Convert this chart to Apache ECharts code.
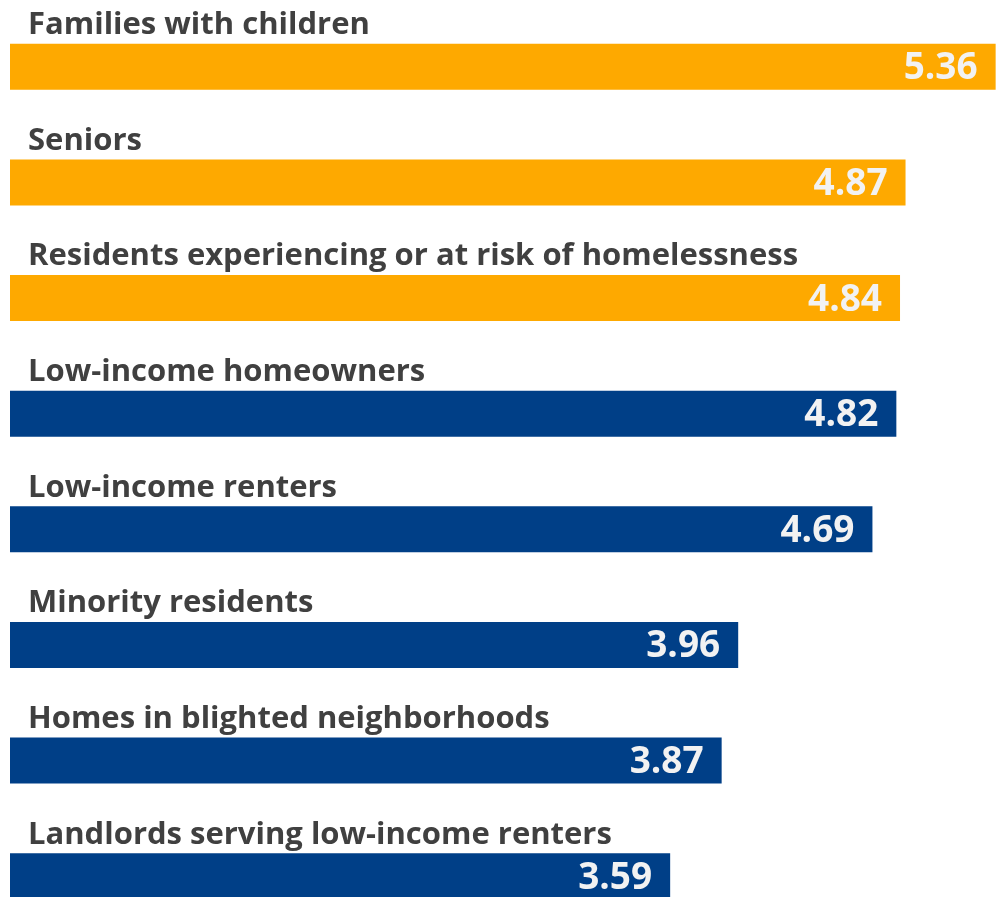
<!DOCTYPE html>
<html>
<head>
<meta charset="utf-8">
<script src="https://cdn.jsdelivr.net/npm/echarts@6/dist/echarts.min.js"></script>
<style>html,body{margin:0;padding:0;background:#fff;}#main{width:1005px;height:897px;}</style>
</head>
<body>
<div id="main"></div>
<script>
var categories = ["Families with children","Seniors","Residents experiencing or at risk of homelessness","Low-income homeowners","Low-income renters","Minority residents","Homes in blighted neighborhoods","Landlords serving low-income renters"];
var values = [5.36, 4.87, 4.84, 4.82, 4.69, 3.96, 3.87, 3.59];
var highlighted = [true, true, true, false, false, false, false, false];
var orange = '#FEA900';
var blue = '#003F87';

var chart = echarts.init(document.getElementById('main'), null, {renderer:'canvas'});
chart.setOption({
  animation: false,
  grid: {left: 10, top: 9, right: 2, bottom: -37, containLabel: false, outerBoundsMode: 'none'},
  xAxis: {type: 'value', min: 0, max: 5.4, show: false},
  yAxis: {type: 'category', data: categories, inverse: true, show: false},
  series: [{
    type: 'bar', barWidth: 46, barGap: '-100%', clip: false,
    data: values.map(function(v, i){ return {value: v, itemStyle: {color: highlighted[i] ? orange : blue}}; }),
    label: {
      show: true, position: 'insideRight', distance: 18, offset: [0, 2],
      formatter: function(p){ return values[p.dataIndex].toFixed(2); },
      fontFamily: 'Open Sans', fontWeight: 'bold', fontSize: 37, color: '#F2F2F2'
    }
  }, {
    type: 'bar', barWidth: 46, barGap: '-100%', silent: true, clip: false,
    data: values,
    itemStyle: {color: 'rgba(0,0,0,0)'},
    label: {
      show: true, position: [18, -34], align: 'left', verticalAlign: 'top',
      formatter: function(p){ return categories[p.dataIndex]; },
      fontFamily: 'Open Sans', fontWeight: 'bold', fontSize: 31, color: '#404040'
    }
  }]
});
</script>
</body>
</html>
